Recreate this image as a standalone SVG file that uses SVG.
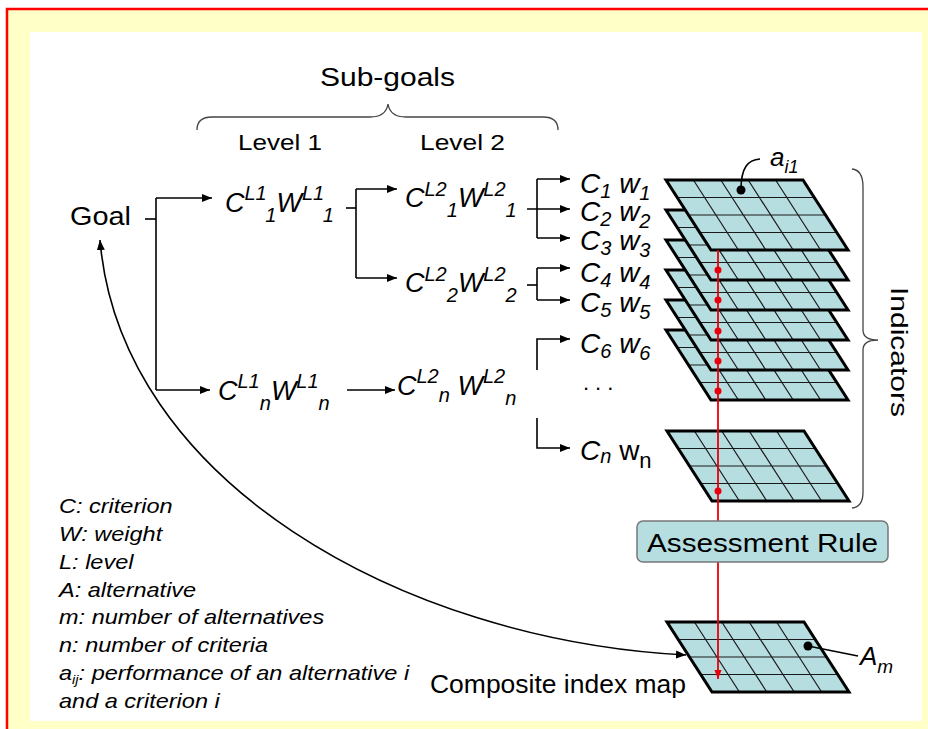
<svg xmlns="http://www.w3.org/2000/svg" width="928" height="729" viewBox="0 0 928 729">
<defs>
<style>
text{font-family:"Liberation Sans",Arial,sans-serif;fill:#000}
.it{font-style:italic}
.ln{fill:none;stroke:#000;stroke-width:1.6}
.arr{marker-end:url(#ah)}
.grid{stroke:#1a1a1a;stroke-width:1.2;fill:none}
.fillc{fill:#b6dde0}
.edge{fill:none;stroke:#000;stroke-width:3;stroke-linejoin:miter}
.brace{fill:none;stroke:#444;stroke-width:1.3}
.rdot{fill:#e8000b}
.f{font-style:italic;font-size:27px}
.s{font-size:20px}
</style>
<marker id="ah" viewBox="0 0 10 8" refX="10" refY="4" markerWidth="10" markerHeight="8" markerUnits="userSpaceOnUse" orient="auto-start-reverse"><path d="M0,0 L10,4 L0,8 z" fill="#000"/></marker>
<marker id="rh" viewBox="0 0 10 8" refX="10" refY="4" markerWidth="9" markerHeight="8" markerUnits="userSpaceOnUse" orient="auto"><path d="M0,0 L10,4 L0,8 z" fill="#e8000b"/></marker>
<g id="layer">
<path class="fillc" d="M0 0H137L182 70H45Z"/>
<path class="grid" d="M27.4 0L72.4 70M54.8 0L99.8 70M82.2 0L127.2 70M109.6 0L154.6 70M11.25 17.5H148.25M22.5 35H159.5M33.75 52.5H170.75"/>
<path class="edge" d="M0 0H137L182 70H45Z"/>
</g>
</defs>

<rect width="928" height="729" fill="#fff"/>
<rect x="8" y="10" width="920" height="719" fill="#ffffc8"/>
<rect x="30" y="32" width="892" height="689" fill="#fff"/>
<path d="M7 729V9H928" fill="none" stroke="#f00" stroke-width="2.5"/>

<g id="subgoals">
<text x="320" y="86" font-size="26" textLength="135" lengthAdjust="spacingAndGlyphs">Sub-goals</text>
<path class="brace" d="M197 130 Q197 117 212 117 H370 Q386 117 388 104 Q390 117 406 117 H543 Q558 117 558 130"/>
</g>
<g id="level1"><text x="238" y="150" font-size="22" textLength="84" lengthAdjust="spacingAndGlyphs">Level 1</text></g>
<g id="level2"><text x="420" y="150" font-size="22" textLength="85" lengthAdjust="spacingAndGlyphs">Level 2</text></g>

<g id="goal"><text x="70" y="225" font-size="25" textLength="61" lengthAdjust="spacingAndGlyphs">Goal</text></g>

<g id="c11"><text class="f" x="225" y="212">C<tspan class="s" dy="-12">L1</tspan><tspan class="s" dy="22">1</tspan><tspan dy="-10">W</tspan><tspan class="s" dy="-12">L1</tspan><tspan class="s" dy="22">1</tspan></text></g>
<g id="c1n"><text class="f" x="218" y="400">C<tspan class="s" dy="-12">L1</tspan><tspan class="s" dy="22">n</tspan><tspan dy="-10">W</tspan><tspan class="s" dy="-12">L1</tspan><tspan class="s" dy="22">n</tspan></text></g>
<g id="c21"><text class="f" x="405" y="207">C<tspan class="s" dy="-11">L2</tspan><tspan class="s" dy="21">1</tspan><tspan dy="-10">W</tspan><tspan class="s" dy="-11">L2</tspan><tspan class="s" dy="21">1</tspan></text></g>
<g id="c22"><text class="f" x="405" y="292">C<tspan class="s" dy="-11">L2</tspan><tspan class="s" dy="21">2</tspan><tspan dy="-10">W</tspan><tspan class="s" dy="-11">L2</tspan><tspan class="s" dy="21">2</tspan></text></g>
<g id="c2n"><text class="f" x="397" y="395">C<tspan class="s" dy="-12">L2</tspan><tspan class="s" dy="19">n</tspan><tspan dy="-7"> W</tspan><tspan class="s" dy="-12">L2</tspan><tspan class="s" dy="22">n</tspan></text></g>

<g id="crit1"><text class="it" x="580" y="193" font-size="28">C<tspan font-size="20" dy="5">1</tspan><tspan dy="-5"> w</tspan><tspan font-size="20" dy="7">1</tspan></text></g>
<g id="crit2"><text class="it" x="580" y="221" font-size="28">C<tspan font-size="20" dy="5">2</tspan><tspan dy="-5"> w</tspan><tspan font-size="20" dy="7">2</tspan></text></g>
<g id="crit3"><text class="it" x="580" y="250" font-size="28">C<tspan font-size="20" dy="5">3</tspan><tspan dy="-5"> w</tspan><tspan font-size="20" dy="7">3</tspan></text></g>
<g id="crit4"><text class="it" x="580" y="282" font-size="28">C<tspan font-size="20" dy="5">4</tspan><tspan dy="-5"> w</tspan><tspan font-size="20" dy="7">4</tspan></text></g>
<g id="crit5"><text class="it" x="580" y="312" font-size="28">C<tspan font-size="20" dy="5">5</tspan><tspan dy="-5"> w</tspan><tspan font-size="20" dy="7">5</tspan></text></g>
<g id="crit6"><text class="it" x="580" y="353" font-size="28">C<tspan font-size="20" dy="5">6</tspan><tspan dy="-5"> w</tspan><tspan font-size="20" dy="7">6</tspan></text></g>
<g id="dots"><text x="583" y="390" font-size="22" letter-spacing="6">...</text></g>
<g id="critn"><text x="580" y="460" font-size="28"><tspan class="it">C</tspan><tspan class="it" font-size="20" dy="3">n</tspan><tspan dy="-3"> w</tspan><tspan font-size="22" dy="8">n</tspan></text></g>

<g id="connectors">
<path class="ln" d="M145 219H156"/>
<path class="ln" d="M156 390V198"/>
<path class="ln arr" d="M156 198H212"/>
<path class="ln arr" d="M156 390H210"/>
<path class="ln" d="M346 208H356"/>
<path class="ln" d="M356 189V278"/>
<path class="ln arr" d="M356 189H397"/>
<path class="ln arr" d="M356 278H397"/>
<path class="ln arr" d="M347 390H395"/>
<path class="ln arr" d="M527 209H570"/>
<path class="ln" d="M537 179V238"/>
<path class="ln arr" d="M537 179H570"/>
<path class="ln arr" d="M537 238H570"/>
<path class="ln" d="M527 285H537"/>
<path class="ln" d="M537 268V300"/>
<path class="ln arr" d="M537 268H570"/>
<path class="ln arr" d="M537 300H570"/>
<path class="ln arr" d="M537 370V339H570"/>
<path class="ln arr" d="M537 418V448H570"/>
</g>

<g id="indicators">
<use href="#layer" x="666" y="330"/>
<use href="#layer" x="666" y="300"/>
<use href="#layer" x="666" y="270"/>
<use href="#layer" x="666" y="240"/>
<use href="#layer" x="666" y="210"/>
<use href="#layer" x="666" y="180"/>
</g>
<g id="layer-n"><use href="#layer" x="667" y="431"/></g>
<g id="composite"><use href="#layer" x="667" y="622"/></g>

<g id="red-flow">
<path d="M718 250V679" fill="none" stroke="#e8000b" stroke-width="1.8" marker-end="url(#rh)"/>
<circle class="rdot" cx="718" cy="270" r="3.5"/>
<circle class="rdot" cx="718" cy="300" r="3.5"/>
<circle class="rdot" cx="718" cy="331" r="3.5"/>
<circle class="rdot" cx="718" cy="361" r="3.5"/>
<circle class="rdot" cx="718" cy="391" r="3.5"/>
<circle class="rdot" cx="718" cy="491" r="3.5"/>
</g>

<g id="assessment">
<rect x="637" y="521" width="251" height="41" rx="6" fill="#b6dde0" stroke="#777" stroke-width="1.5"/>
<text x="647" y="552" font-size="25" textLength="231" lengthAdjust="spacingAndGlyphs">Assessment Rule</text>
</g>

<g id="ai1">
<path class="ln" d="M760 159C748 160 741 167 741 190"/>
<circle cx="741" cy="190" r="4.5"/>
<text class="it" x="770" y="166" font-size="26">a<tspan font-size="18" dy="7">i1</tspan></text>
</g>
<g id="am">
<path class="ln" d="M808 646L858 656"/>
<circle cx="808" cy="646" r="4.5"/>
<text class="it" x="860" y="665" font-size="26">A<tspan font-size="19" dy="8">m</tspan></text>
</g>

<g id="indicators-brace">
<path class="brace" d="M852 169Q863 170 863 187V330Q863 340 878 340Q863 340 863 350V492Q863 507 852 508"/>
<text transform="translate(891 287) rotate(90)" font-size="24" textLength="130" lengthAdjust="spacingAndGlyphs">Indicators</text>
</g>

<g id="composite-label"><text x="430" y="693" font-size="25" textLength="256" lengthAdjust="spacingAndGlyphs">Composite index map</text></g>

<g id="feedback">
<path class="ln" d="M686 655C400 640 120 480 100 240" marker-start="url(#ah)" marker-end="url(#ah)"/>
</g>

<g id="legend" transform="translate(59 0) scale(1.12 1)" font-size="21">
<text class="it" x="0" y="513">C: criterion</text>
<text class="it" x="0" y="541">W: weight</text>
<text class="it" x="0" y="569">L: level</text>
<text class="it" x="0" y="597">A: alternative</text>
<text class="it" x="0" y="624">m: number of alternatives</text>
<text class="it" x="0" y="652">n: number of criteria</text>
<text class="it" x="0" y="680">a<tspan font-size="13" dy="4">ij</tspan><tspan dy="-4">: performance of an alternative i</tspan></text>
<text class="it" x="0" y="708">and a criterion i</text>
</g>
</svg>
